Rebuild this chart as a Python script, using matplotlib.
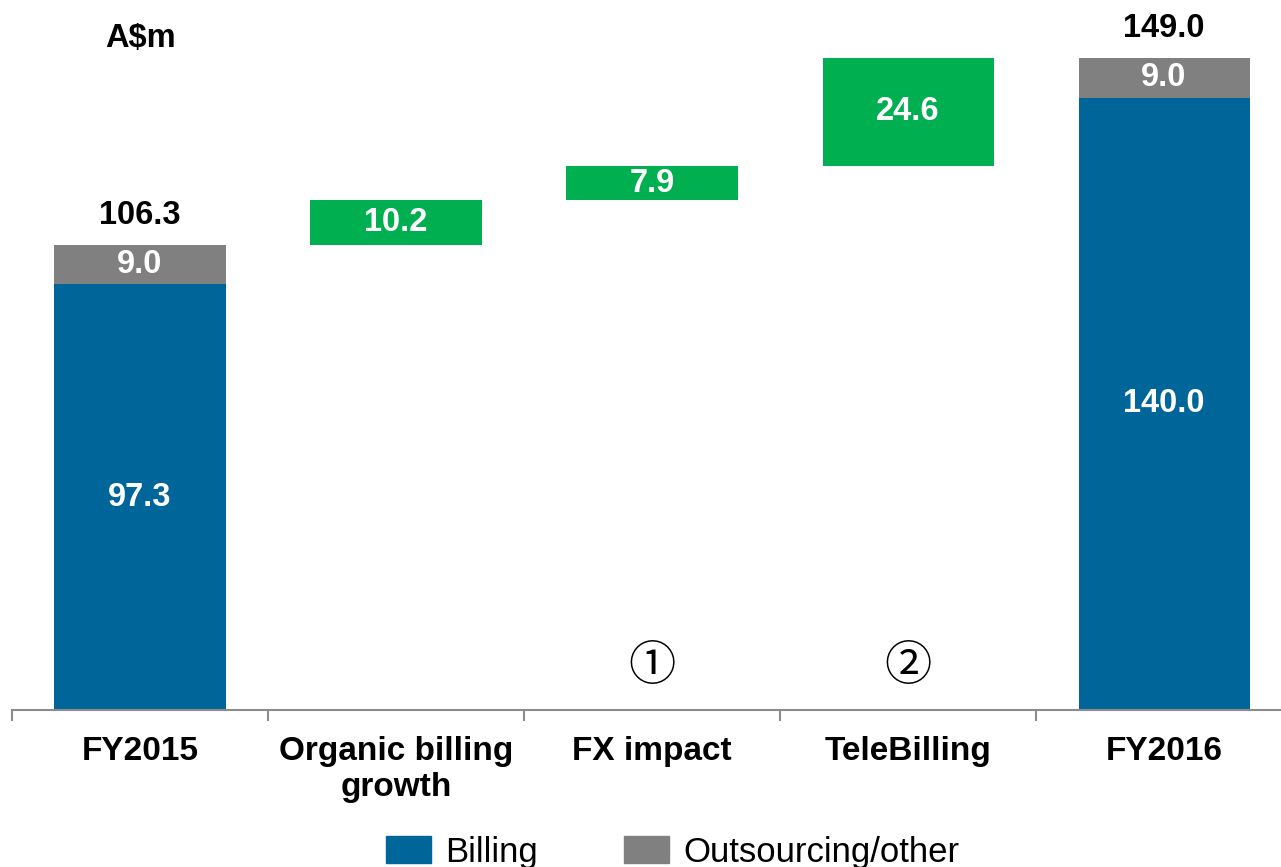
import matplotlib.pyplot as plt
from matplotlib.patches import Patch

plt.rcParams['font.family'] = ['Liberation Sans', 'DejaVu Sans']

categories = ["FY2015", "Organic billing\ngrowth", "FX impact", "TeleBilling", "FY2016"]
billing = [97.3, None, None, None, 140.0]
outsourcing = [9.0, None, None, None, 9.0]
steps = [None, 10.2, 7.9, 24.6, None]
notes = {2: "\u2460", 3: "\u2461"}

blue = "#006699"
gray = "#808080"
green = "#00B050"
fs = 23.5

fig = plt.figure(figsize=(12.81, 8.67), dpi=100)
ax = fig.add_axes([12 / 1281, 157 / 867, 1 - 12 / 1281, 700 / 867])

w = 0.668
running = 0.0
for i, cat in enumerate(categories):
    if billing[i] is not None:
        b, o = billing[i], outsourcing[i]
        ax.bar(i, b, w, color=blue)
        ax.bar(i, o, w, bottom=b, color=gray)
        ax.text(i, b / 2, f"{b:.1f}", ha="center", va="center", color="white",
                fontsize=fs, fontweight="bold")
        ax.text(i, b + o / 2, f"{o:.1f}", ha="center", va="center", color="white",
                fontsize=fs, fontweight="bold")
        ax.annotate(f"{b + o:.1f}", (i, b + o), xytext=(0, 10), textcoords="offset points",
                    ha="center", va="bottom", fontsize=fs, fontweight="bold")
        running = b + o
    else:
        s = steps[i]
        ax.bar(i, s, w, bottom=running, color=green)
        ax.text(i, running + s / 2, f"{s:.1f}", ha="center", va="center", color="white",
                fontsize=fs, fontweight="bold")
        running += s

for i, n in notes.items():
    ax.text(i, 9.9, n, ha="center", va="center", fontsize=34,
            family=['Noto Sans CJK JP', 'DejaVu Sans'])

ax.text(0, 153.5, "A$m", ha="center", va="center", fontsize=fs, fontweight="bold")

ax.set_xlim(-0.5, 4.457)
ax.set_ylim(0, 160)
for side in ["top", "right", "left"]:
    ax.spines[side].set_visible(False)
ax.spines["bottom"].set_color("#8c8c8c")
ax.spines["bottom"].set_linewidth(1.5)
ax.set_yticks([])
ax.set_xticks([i + 0.5 for i in range(-1, 4)], minor=False)
ax.set_xticklabels([])
ax.tick_params(axis="x", length=8, color="#8c8c8c", width=1.5)
ax.set_xticks(range(len(categories)), minor=True)
ax.set_xticklabels(categories, minor=True, fontsize=24, fontweight="bold")
ax.tick_params(axis="x", which="minor", length=0, pad=19)
for lab in ax.get_xticklabels(minor=True):
    lab.set_linespacing(1.2)

handles = [Patch(color=blue, label="Billing"), Patch(color=gray, label="Outsourcing/other")]
fig.legend(handles=handles, loc="center", bbox_to_anchor=(0.525, 0.017), ncol=2,
           frameon=False, handlelength=1.3, handleheight=0.84,
           columnspacing=2.5, handletextpad=0.4, borderpad=0,
           prop={'family': 'Liberation Sans', 'size': 25})

fig.savefig("out.png", dpi=100)
